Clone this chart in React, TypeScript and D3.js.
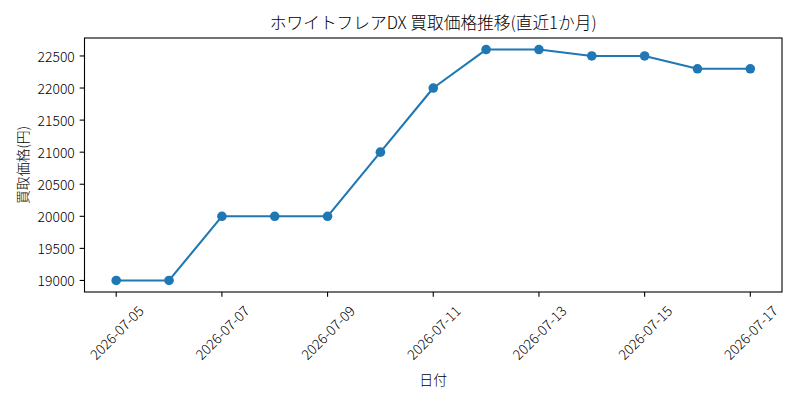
import React from "react";
import * as d3 from "d3";

const dates = ["2026-07-05","2026-07-06","2026-07-07","2026-07-08","2026-07-09","2026-07-10","2026-07-11","2026-07-12","2026-07-13","2026-07-14","2026-07-15","2026-07-16","2026-07-17"];
const prices = [19000,19000,20000,20000,20000,21000,22000,22600,22600,22500,22500,22300,22300];
const xTickLabels = ["2026-07-05","2026-07-07","2026-07-09","2026-07-11","2026-07-13","2026-07-15","2026-07-17"];
const yTicks = [19000,19500,20000,20500,21000,21500,22000,22500];
const title = "ホワイトフレアDX 買取価格推移(直近1か月)";
const xLabel = "日付";
const yLabel = "買取価格(円)";

const W = 800, H = 400;
const L = 84.5, R = 782, T = 38, B = 292;
const FONT = "'Noto Sans CJK JP', 'Noto Sans', sans-serif";
const COLOR = "#1f77b4";

export default function App() {
  const parse = d3.timeParse("%Y-%m-%d");
  const pts = dates.map((d, i) => ({ t: parse(d)!, v: prices[i] }));
  const t0 = pts[0].t.getTime(), t1 = pts[pts.length - 1].t.getTime();
  const span = t1 - t0;
  const x = d3.scaleTime().domain([new Date(t0 - span * 0.05), new Date(t1 + span * 0.05)]).range([L, R]);
  const vmin = d3.min(prices)!, vmax = d3.max(prices)!;
  const vspan = vmax - vmin;
  const y = d3.scaleLinear().domain([vmin - vspan * 0.05, vmax + vspan * 0.05]).range([B, T]);
  const line = d3.line<{ t: Date; v: number }>().x(d => x(d.t)).y(d => y(d.v));
  const tickLen = 4.86, pad = 4.86;
  const fs = 13.9;
  const labelW = 72, labelH = 14;
  const boxH = (labelW + labelH) * Math.SQRT1_2;
  return (
    <div style={{ position: "fixed", left: 0, top: 0, width: W, height: H, background: "#fff" }}>
      <svg width={W} height={H} style={{ display: "block" }} fontFamily={FONT} fontWeight={300}>
        <rect width={W} height={H} fill="#fff" />
        <text x={(L + R) / 2} y={29} textAnchor="middle" fontSize={16.7} fill="#000">{title}</text>
        {yTicks.map(v => (
          <g key={v}>
            <line x1={L - tickLen} x2={L} y1={y(v)} y2={y(v)} stroke="#000" strokeWidth={1.1} />
            <text x={L - tickLen - pad} y={y(v)} textAnchor="end" dominantBaseline="central" fontSize={fs} fill="#000">{v}</text>
          </g>
        ))}
        {xTickLabels.map(s => {
          const xx = x(parse(s)!);
          const cy = B + tickLen + pad + boxH / 2;
          return (
            <g key={s}>
              <line x1={xx} x2={xx} y1={B} y2={B + tickLen} stroke="#000" strokeWidth={1.1} />
              <text x={xx} y={cy} transform={`rotate(-45 ${xx} ${cy})`} textAnchor="middle" dominantBaseline="central" fontSize={fs} fill="#000">{s}</text>
            </g>
          );
        })}
        <path d={line(pts)!} fill="none" stroke={COLOR} strokeWidth={2.08} strokeLinejoin="round" strokeLinecap="square" />
        {pts.map((p, i) => (
          <circle key={i} cx={x(p.t)} cy={y(p.v)} r={4.8} fill={COLOR} />
        ))}
        <rect x={L} y={T} width={R - L} height={B - T} fill="none" stroke="#000" strokeWidth={1.1} />
        <text x={(L + R) / 2} y={385} textAnchor="middle" fontSize={fs} fill="#000">{xLabel}</text>
        <text transform={`translate(22 ${(T + B) / 2}) rotate(-90)`} textAnchor="middle" dominantBaseline="central" fontSize={fs} fill="#000">{yLabel}</text>
      </svg>
    </div>
  );
}
